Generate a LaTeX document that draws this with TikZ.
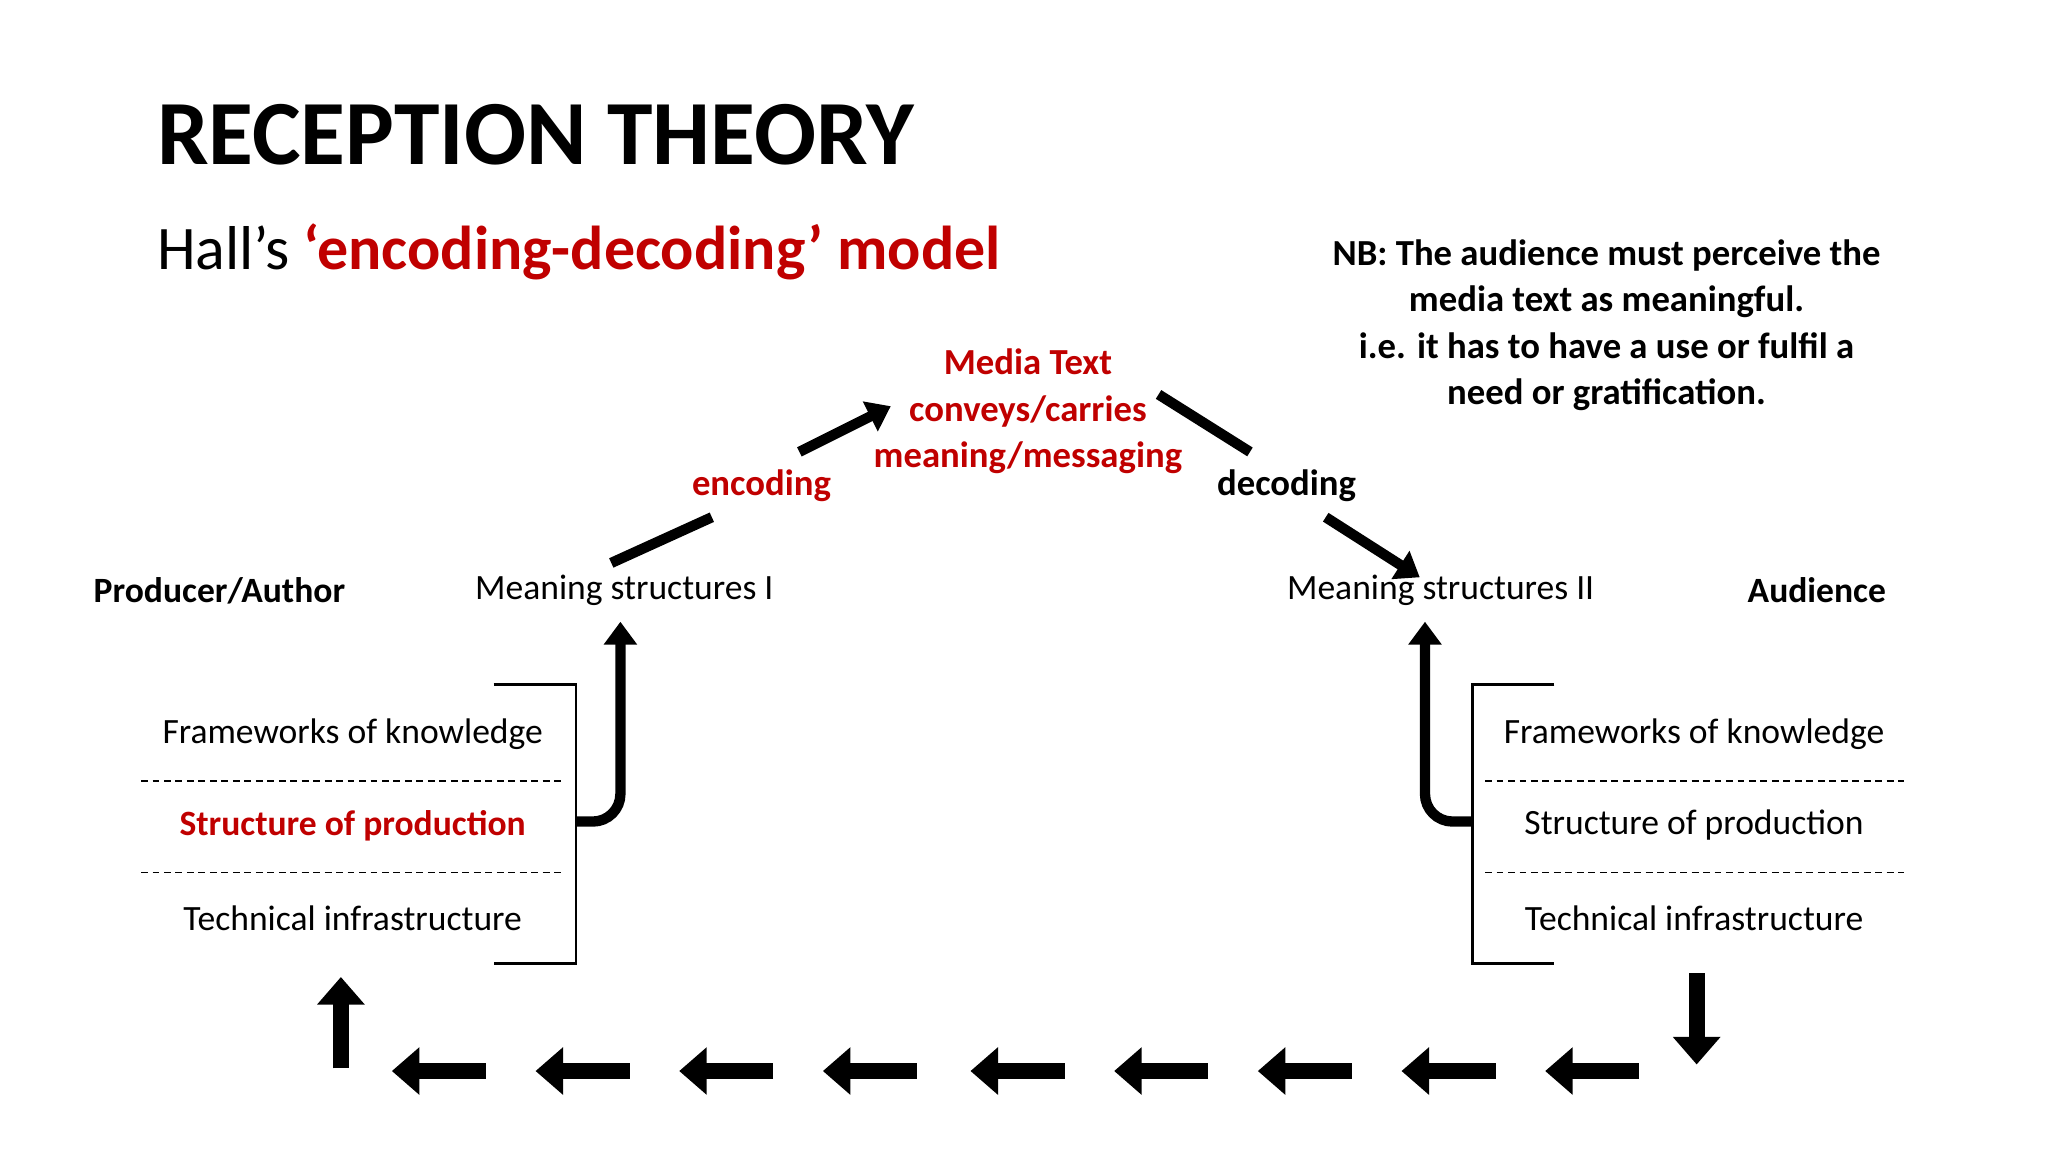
\documentclass[tikz,border=0pt]{standalone}
\usepackage{fontspec}
\setmainfont{Carlito}
\usetikzlibrary{arrows.meta}
\definecolor{hred}{RGB}{192,0,0}
\tikzset{
  body/.style={font=\fontsize{15.5}{19}\selectfont, inner sep=0pt},
  bodyb/.style={body, font=\fontsize{15.5}{19}\selectfont\bfseries},
  fat/.style={line width=4.5pt},
  fatarrow/.style={line width=4.5pt, -{Triangle[length=10pt,width=14pt]}},
  flow/.style={line width=7pt, -{Triangle[length=12pt,width=20pt]}},
  sep/.style={dashed, line width=0.6pt, dash pattern=on 3pt off 2pt},
  brk/.style={line width=1.3pt}
}
\begin{document}
\begin{tikzpicture}[x=0.02cm,y=-0.02cm]
\useasboundingbox (0,0) rectangle (1568,882);
\node[anchor=west, font=\fontsize{40}{44}\selectfont\bfseries, inner sep=0pt] (title) at (120,103) {RECEPTION THEORY};
\node[anchor=west, font=\fontsize{27}{30}\selectfont, inner sep=0pt] (sub) at (120,193) {Hall’s \textcolor{hred}{\bfseries ‘encoding-decoding’ model}};
\node[bodyb, align=center, font=\fontsize{16}{20.2}\selectfont\bfseries] (nb) at (1230,249) {NB: The audience must perceive the\\media text as meaningful.\\i.e. it has to have a use or fulfil a\\need or gratification.};
\node[bodyb, align=center, text=hred, font=\fontsize{16}{20.2}\selectfont\bfseries] (media) at (787,315) {Media Text\\conveys/carries\\meaning/messaging};
\node[bodyb, text=hred, font=\fontsize{16}{19}\selectfont\bfseries] (enc) at (583,372) {encoding};
\node[bodyb, font=\fontsize{16}{19}\selectfont\bfseries] (dec) at (985,372) {decoding};
\node[bodyb] (prod) at (168,452) {Producer/Author};
\node[body] (ms1) at (478,452) {Meaning structures I};
\node[body] (ms2) at (1103,452) {Meaning structures II};
\node[bodyb] (aud) at (1391,452) {Audience};
% left block
\node[body] (lf) at (270,562) {Frameworks of knowledge};
\node[bodyb, text=hred] (ls) at (270,632) {Structure of production};
\node[body] (lt) at (270,703) {Technical infrastructure};
\draw[sep] (108,598) -- (432,598);
\draw[sep] (108,668) -- (432,668);
\draw[brk] (378,524) -- (441,524) -- (441,738) -- (378,738);
% right block
\node[body] (rf) at (1297,562) {Frameworks of knowledge};
\node[body] (rs) at (1297,632) {Structure of production};
\node[body] (rt) at (1297,703) {Technical infrastructure};
\draw[sep] (1137,598) -- (1458,598);
\draw[sep] (1137,668) -- (1458,668);
\draw[brk] (1190,524) -- (1127,524) -- (1127,738) -- (1190,738);
% vertical arrows
\coordinate (lb) at (441,629);
\coordinate (rb) at (1127,629);
\draw[fatarrow, rounded corners=12pt] (lb) -| (475,476);
\draw[fatarrow, rounded corners=12pt] (rb) -| (1091,476);
% encoding / decoding
\draw[fat] (468,431) -- (545,396);
\draw[fatarrow] (612,346) -- (682,311);
\draw[fat] (887,302) -- (957,346);
\draw[fatarrow] (1015,396) -- (1087,442);
% bottom flow
\draw[flow] (261,818) -- (261,748);
\draw[flow] (1299,745) -- (1299,815);
\foreach \h in {1183,1073,963,853,743,630,520,410,300}{
  \draw[flow] (\h+72,820) -- (\h,820);
}
\end{tikzpicture}
\end{document}
